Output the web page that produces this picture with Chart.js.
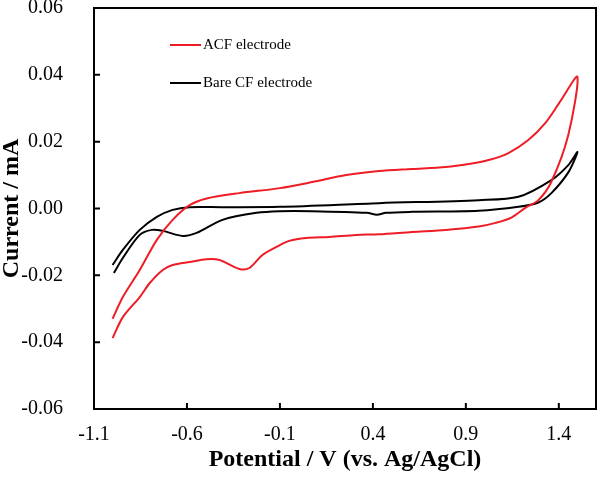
<!DOCTYPE html>
<html>
<head>
<meta charset="utf-8">
<script src="https://cdn.jsdelivr.net/npm/chart.js@4"></script>
<style>
  html, body { margin: 0; padding: 0; background: #fff; }
  #wrap { width: 604px; height: 483px; }
</style>
</head>
<body>
<div id="wrap"><canvas id="cv" width="604" height="483"></canvas></div>
<script>
// ACF electrode loop: forward sweep then reverse sweep
const acfV = [-1.0, -0.945, -0.854, -0.762, -0.677, -0.586, -0.494, -0.318, -0.10, 0.074, 0.256, 0.433, 0.61, 0.792, 0.915, 1.022, 1.129, 1.236, 1.328, 1.413, 1.5,
              1.451, 1.36, 1.29, 1.22, 1.145, 1.06, 0.969, 0.792, 0.61, 0.433, 0.309, 0.165, 0.041, -0.05, -0.119, -0.194, -0.264, -0.318, -0.425, -0.494, -0.586, -0.677, -0.73, -0.8, -0.854, -0.945, -1.0];
const acfI = [-0.033, -0.0265, -0.0184, -0.0094, -0.0034, 0.001, 0.003, 0.0046, 0.0061, 0.0079, 0.0100, 0.0112, 0.0118, 0.0124, 0.0133, 0.0145, 0.0166, 0.0205, 0.0256, 0.0325, 0.0394,
              0.022, 0.008, 0.0025, 0.0002, -0.0027, -0.0043, -0.0054, -0.0064, -0.0070, -0.0077, -0.0079, -0.0085, -0.0088, -0.0097, -0.0115, -0.0139, -0.0178, -0.0181, -0.0154, -0.0152, -0.016, -0.0169, -0.0184, -0.0223, -0.0265, -0.0325, -0.0388];

// Bare CF electrode loop
const bareV = [-1.0, -0.945, -0.854, -0.762, -0.677, -0.586, -0.409, -0.10, 0.433, 0.969, 1.183, 1.36, 1.451, 1.5,
               1.451, 1.36, 1.29, 1.183, 0.969, 0.61, 0.47, 0.422, 0.368, 0.074, -0.103, -0.226, -0.409, -0.548, -0.623, -0.73, -0.789, -0.854, -0.945, -0.993];
const bareI = [-0.0169, -0.0124, -0.0064, -0.0025, -0.0004, 0.0004, 0.0004, 0.0005, 0.0016, 0.0025, 0.0035, 0.0085, 0.013, 0.0169,
               0.0108, 0.0046, 0.0018, 0.0005, -0.0007, -0.001, -0.0013, -0.0019, -0.0013, -0.0008, -0.0008, -0.0013, -0.0034, -0.0073, -0.0082, -0.0067, -0.0064, -0.0079, -0.0148, -0.0193];

const xTicks = [-1.1, -0.6, -0.1, 0.4, 0.9, 1.4];
const yTicks = [-0.06, -0.04, -0.02, 0.00, 0.02, 0.04, 0.06];
const seriesNames = ["ACF electrode", "Bare CF electrode"];

const serif = "'Liberation Serif', 'Times New Roman', serif";

function toPts(xs, ys) {
    return xs.map((x, i) => ({ x: x, y: ys[i] }));
}

// frame, inward tick marks and in-plot legend
const framePlugin = {
    id: "frame",
    afterDraw(chart) {
        const ctx = chart.ctx;
        const a = chart.chartArea;
        const xs = chart.scales.x, ys = chart.scales.y;
        ctx.save();
        ctx.strokeStyle = "#000";
        ctx.lineWidth = 2;
        ctx.strokeRect(a.left, a.top, a.right - a.left, a.bottom - a.top);
        ctx.beginPath();
        xs.ticks.forEach(t => {
            const px = xs.getPixelForValue(t.value);
            ctx.moveTo(px, a.bottom);
            ctx.lineTo(px, a.bottom - 6);
        });
        ys.ticks.forEach(t => {
            const py = ys.getPixelForValue(t.value);
            ctx.moveTo(a.left, py);
            ctx.lineTo(a.left + 6, py);
        });
        ctx.stroke();

        // legend
        ctx.font = "15px " + serif;
        ctx.textBaseline = "middle";
        ctx.fillStyle = "#000";
        chart.data.datasets.forEach((ds, i) => {
            const y = 45 + i * 38;
            ctx.strokeStyle = ds.borderColor;
            ctx.lineWidth = 2;
            ctx.beginPath();
            ctx.moveTo(170, y);
            ctx.lineTo(201, y);
            ctx.stroke();
            ctx.fillText(ds.label, 203, y);
        });
        ctx.restore();
    }
};

new Chart(document.getElementById("cv").getContext("2d"), {
    type: "scatter",
    data: {
        datasets: [
            {
                label: seriesNames[0],
                data: toPts(acfV, acfI),
                showLine: true,
                borderColor: "#ee1c25",
                borderWidth: 2,
                pointRadius: 0,
                tension: 0.3
            },
            {
                label: seriesNames[1],
                data: toPts(bareV, bareI),
                showLine: true,
                borderColor: "#000000",
                borderWidth: 2,
                pointRadius: 0,
                tension: 0.3
            }
        ]
    },
    options: {
        responsive: false,
        animation: false,
        layout: { autoPadding: false, padding: { top: 8, right: 8, left: 0, bottom: 0 } },
        plugins: {
            legend: { display: false },
            tooltip: { enabled: false }
        },
        scales: {
            x: {
                type: "linear",
                min: -1.1,
                max: 1.6,
                afterBuildTicks: s => { s.ticks = xTicks.map(v => ({ value: v })); },
                afterFit: s => { s.height = 74; s.paddingLeft = 0; s.paddingRight = 0; },
                grid: { display: false },
                border: { display: false },
                ticks: {
                    padding: 6,
                    maxRotation: 0,
                    color: "#000",
                    font: { family: serif, size: 20 },
                    callback: v => v.toFixed(1)
                },
                title: {
                    display: true,
                    text: "Potential / V (vs. Ag/AgCl)",
                    color: "#000",
                    font: { family: serif, size: 24, weight: "bold", lineHeight: 1.2 },
                    padding: { top: 0, bottom: 9 }
                }
            },
            y: {
                type: "linear",
                min: -0.06,
                max: 0.06,
                afterBuildTicks: s => { s.ticks = yTicks.map(v => ({ value: v })); },
                afterFit: s => { s.width = 94; s.paddingTop = 0; s.paddingBottom = 0; },
                grid: { display: false },
                border: { display: false },
                ticks: {
                    padding: 23,
                    color: "#000",
                    font: { family: serif, size: 20 },
                    callback: v => v.toFixed(2)
                },
                title: {
                    display: true,
                    text: "Current / mA",
                    color: "#000",
                    font: { family: serif, size: 24, weight: "bold", lineHeight: 1 },
                    padding: { top: 0, bottom: 0 }
                }
            }
        }
    },
    plugins: [framePlugin]
});
</script>
</body>
</html>
